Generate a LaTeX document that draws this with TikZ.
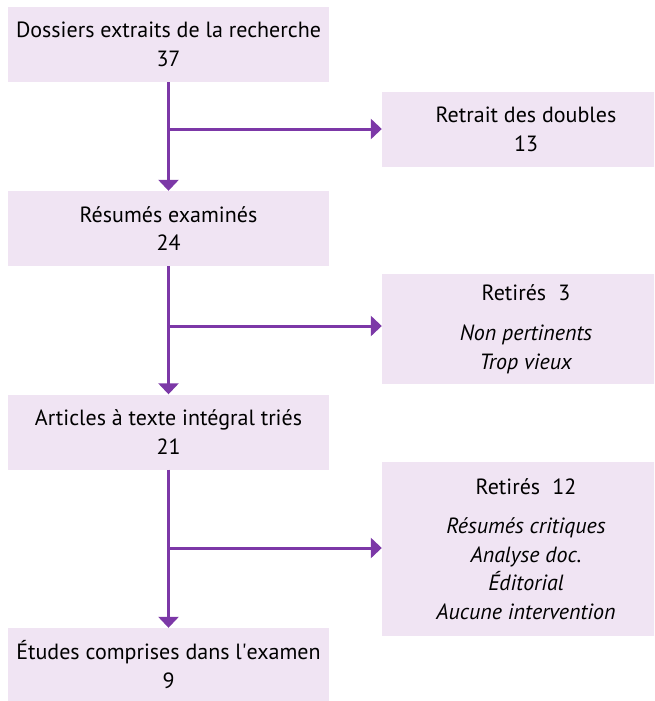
\documentclass[tikz,border=0pt]{standalone}
\usepackage{fontspec}
\setmainfont{PT Sans}
\usepackage{tikz}
\usetikzlibrary{positioning,arrows.meta}
\definecolor{flowline}{RGB}{124,56,167}
\definecolor{boxfill}{RGB}{240,228,243}
\tikzset{
  boite/.style={fill=boxfill, minimum width=321pt, minimum height=75pt,
    inner sep=0pt, align=center, font=\fontsize{22}{28.5}\selectfont},
  retrait/.style={boite, minimum width=288pt},
  fleche/.style={draw=flowline, line width=3pt, -{Triangle[width=20pt,length=11pt]}},
}

\begin{document}
\begin{tikzpicture}[x=1pt,y=-1pt]
\clip (0,0) rectangle (654,701);
\node[boite] (dossiers) at (168.5,44.5) {Dossiers extraits de la recherche\\37};
\node[boite] (resumes) at (168.5,228.5) {Résumés examinés\\24};
\node[boite] (articles) at (168.5,432) {Articles à texte intégral triés\\21};
\node[boite, minimum height=73pt] (etudes) at (168.5,664.5) {Études comprises dans l\textquotesingle examen\\9};
\node[retrait] (doubles) at (526,129.5) {Retrait des doubles\\13};
\node[retrait, minimum height=110pt] (retires1) at (526,329) {Retirés\hspace{0.55em}3\\[12pt]\textit{Non pertinents}\\\textit{Trop vieux}};
\node[retrait, minimum height=174pt] (retires2) at (526,549) {Retirés\hspace{0.55em}12\\[11pt]\textit{Résumés critiques}\\\textit{Analyse doc.}\\\textit{Éditorial}\\\textit{Aucune intervention}};
\coordinate (b1) at (168.5,129);
\coordinate (b2) at (168.5,326);
\coordinate (b3) at (168.5,548);
\draw[fleche] (dossiers) -- (resumes);
\draw[fleche] (resumes) -- (articles);
\draw[fleche] (articles) -- (etudes);
\draw[fleche] (b1) -- (b1 -| doubles.west);
\draw[fleche] (b2) -- (b2 -| retires1.west);
\draw[fleche] (b3) -- (b3 -| retires2.west);
\end{tikzpicture}
\end{document}
